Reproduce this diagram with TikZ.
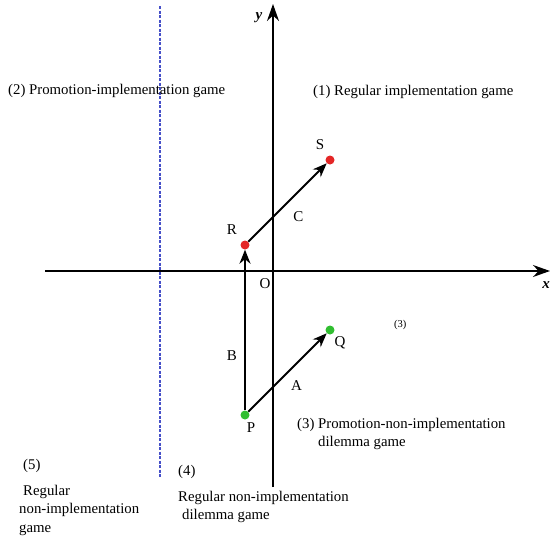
\documentclass[tikz,border=0pt]{standalone}
\usepackage{fontspec}
\setmainfont{Liberation Serif}
\usetikzlibrary{arrows.meta,positioning}

\definecolor{dotred}{RGB}{228,38,38}
\definecolor{dotgreen}{RGB}{48,190,48}
\definecolor{dashblue}{RGB}{70,80,200}

\begin{document}
\begin{tikzpicture}[
    x=1pt, y=-1pt,
    dot/.style={circle, inner sep=0pt, minimum size=9pt},
    lbl/.style={font=\fontsize{15}{17}\selectfont, inner sep=0pt},
    region/.style={font=\fontsize{14.8}{18.5}\selectfont, align=left,
                   inner sep=0pt, anchor=west},
    arrow/.style={-{Stealth[length=14pt,width=11pt]}, line width=1.8pt},
    axis/.style={-{Stealth[length=17pt,width=12pt]}, line width=1.3pt},
  ]
  \useasboundingbox (0,0) rectangle (550,536);

  % axes and the dashed border
  \coordinate (xl) at (45,271);
  \coordinate (xr) at (550,271);
  \coordinate (yb) at (273,487);
  \coordinate (yt) at (273,4);
  \coordinate (dt) at (160,6);
  \coordinate (db) at (160,478);

  \draw[axis] (xl) -- (xr);
  \draw[axis] (yb) -- (yt);
  \draw[dashblue, dashed, line width=1.1pt, dash pattern=on 3pt off 1.5pt] (dt) -- (db);

  \node[lbl, font=\fontsize{15}{17}\selectfont\bfseries\itshape] (ylab) at (259,18) {y};
  \node[lbl, font=\fontsize{15}{17}\selectfont\bfseries\itshape, anchor=east] (xlab) at (550,285) {x};
  \node[lbl] (O) at (265,284) {O};

  % points
  \node[dot, fill=dotred] (R) at (245,245) {};
  \node[dot, fill=dotred] (S) at (330,160) {};
  \node[dot, fill=dotgreen] (P) at (245,415) {};
  \node[dot, fill=dotgreen] (Q) at (330,330) {};

  \node[lbl] (lR) at (232,230) {R};
  \node[lbl] (lS) at (320,145) {S};
  \node[lbl] (lP) at (251,428) {P};
  \node[lbl] (lQ) at (340,343) {Q};

  % moves
  \draw[arrow] (P) -- node[lbl, pos=0.34, xshift=-13pt] (B) {B} (R);
  \draw[arrow] (P) -- node[lbl, pos=0.5, xshift=9pt, yshift=-13pt] (A) {A} (Q);
  \draw[arrow] (R) -- node[lbl, pos=0.5, xshift=11pt, yshift=-14pt] (C) {C} (S);

  % regions
  \node[region] (g2) at (8,91) {(2) Promotion-implementation game};
  \node[region] (g1) at (313,92) {(1) Regular implementation game};
  \node[region, font=\fontsize{10.5}{12}\selectfont] (g3s) at (394,325) {(3)};
  \node[region, anchor=north west] (g3) at (297,418)
    {(3) Promotion-non-implementation\\\hspace*{21pt}dilemma game};
  \node[region] (g5n) at (23,466) {(5)};
  \node[region, anchor=north west] (g5) at (19,485)
    {\hspace*{4pt}Regular\\non-implementation\\game};
  \node[region] (g4n) at (178,472) {(4)};
  \node[region, anchor=north west] (g4) at (178,491)
    {Regular non-implementation\\\hspace*{4pt}dilemma game};

\end{tikzpicture}
\end{document}
